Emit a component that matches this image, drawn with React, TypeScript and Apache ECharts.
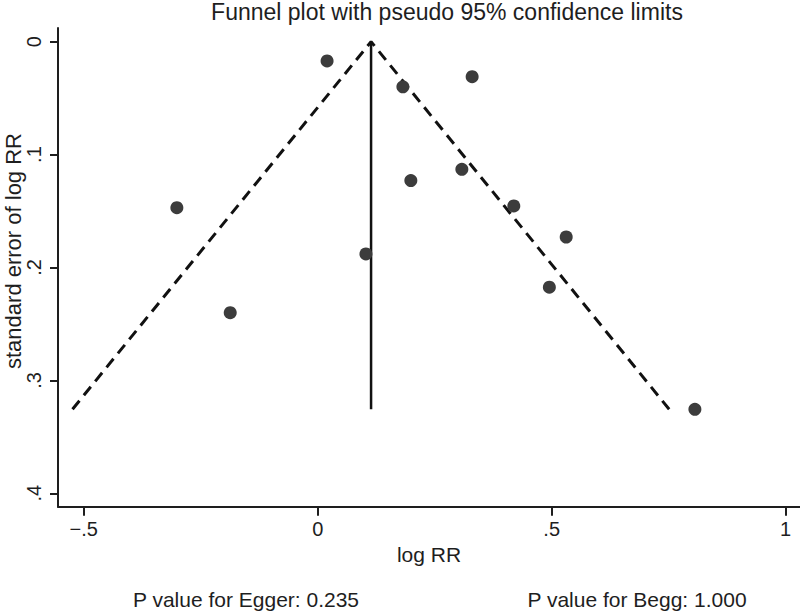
import React, { useEffect, useRef } from "react";
import * as echarts from "echarts";

// Study estimates
const logRR = [0.02, 0.182, 0.33, 0.308, 0.199, -0.301, -0.187, 0.103, 0.419, 0.531, 0.495, 0.806];
const seLogRR = [0.017, 0.04, 0.031, 0.113, 0.123, 0.147, 0.24, 0.188, 0.1455, 0.173, 0.2175, 0.3256];

// Pseudo 95% confidence limits (funnel) and pooled estimate line
const funnelX = [-0.524, 0.114, 0.751];
const funnelY = [0.3256, 0, 0.3256];
const pooledX = [0.114, 0.114];
const pooledY = [0, 0.3256];

const xTicks = [-0.5, 0, 0.5, 1];
const yTicks = [0, 0.1, 0.2, 0.3, 0.4];

const titleText = "Funnel plot with pseudo 95% confidence limits";
const xName = "log RR";
const yName = "standard error of log RR";
const eggerText = "P value for Egger: 0.235";
const beggText = "P value for Begg: 1.000";

const FONT = "'Liberation Sans', Arial, Helvetica, sans-serif";
const INK = "#1e1e1e";

function fmt(v: number): string {
  const s = String(Number(v.toFixed(3)));
  return s.replace(/^0\./, ".").replace(/^-0\./, "\u2212.").replace(/^-/, "\u2212");
}

export default function App() {
  const ref = useRef<HTMLDivElement>(null);

  useEffect(() => {
    if (!ref.current) return;
    const chart = echarts.init(ref.current, undefined, { renderer: "svg" });
    const points = logRR.map((x, i) => [x, seLogRR[i]]);
    const funnel = funnelX.map((x, i) => [x, funnelY[i]]);
    const pooled = pooledX.map((x, i) => [x, pooledY[i]]);

    chart.setOption({
      animation: false,
      backgroundColor: "#ffffff",
      grid: { left: 58, top: 28, right: 0, bottom: 105.3, containLabel: false },
      xAxis: {
        type: "value",
        min: -0.555,
        max: 1.0306,
        splitLine: { show: false },
        axisLine: { show: true, onZero: false, lineStyle: { color: INK, width: 2 } },
        axisTick: { show: true, customValues: xTicks, length: 9, lineStyle: { color: INK, width: 2 } },
        axisLabel: {
          customValues: xTicks,
          formatter: (v: number) => fmt(v),
          fontSize: 20,
          fontFamily: FONT,
          color: INK,
          margin: 12,
        },
        name: xName,
        nameLocation: "middle",
        nameGap: 36,
        nameTextStyle: { fontSize: 21, fontFamily: FONT, color: INK },
      },
      yAxis: {
        type: "value",
        inverse: true,
        min: -0.01213,
        max: 0.4119,
        splitLine: { show: false },
        axisLine: { show: true, onZero: false, lineStyle: { color: INK, width: 2 } },
        axisTick: { show: true, customValues: yTicks, length: 8, lineStyle: { color: INK, width: 2 } },
        axisLabel: {
          customValues: yTicks,
          formatter: (v: number) => fmt(v),
          rotate: 90,
          fontSize: 20,
          fontFamily: FONT,
          color: INK,
          margin: 14,
        },
      },
      graphic: [
        {
          type: "text",
          x: 447,
          y: 12,
          style: {
            text: titleText,
            fill: INK,
            font: `23px ${FONT}`,
            align: "center",
            verticalAlign: "middle",
          },
        },
        {
          type: "text",
          x: 13,
          y: 251,
          rotation: Math.PI / 2,
          style: {
            text: yName,
            fill: INK,
            font: `22px ${FONT}`,
            align: "center",
            verticalAlign: "middle",
          },
        },
        {
          type: "text",
          x: 246,
          y: 599,
          style: {
            text: eggerText,
            fill: INK,
            font: `21px ${FONT}`,
            align: "center",
            verticalAlign: "middle",
          },
        },
        {
          type: "text",
          x: 637,
          y: 599,
          style: {
            text: beggText,
            fill: INK,
            font: `21px ${FONT}`,
            align: "center",
            verticalAlign: "middle",
          },
        },
      ],
      series: [
        {
          type: "line",
          data: funnel,
          symbol: "none",
          lineStyle: { color: "#111111", width: 3, type: [11, 7] },
          silent: true,
          z: 2,
        },
        {
          type: "line",
          data: pooled,
          symbol: "none",
          lineStyle: { color: "#111111", width: 2.5 },
          silent: true,
          z: 2,
        },
        {
          type: "scatter",
          data: points,
          symbol: "circle",
          symbolSize: 13,
          itemStyle: { color: "#3c3c3c", opacity: 1 },
          z: 3,
        },
      ],
    });
    return () => chart.dispose();
  }, []);

  return (
    <div
      ref={ref}
      style={{ position: "fixed", left: 0, top: 0, width: 800, height: 612, background: "#fff" }}
    />
  );
}
